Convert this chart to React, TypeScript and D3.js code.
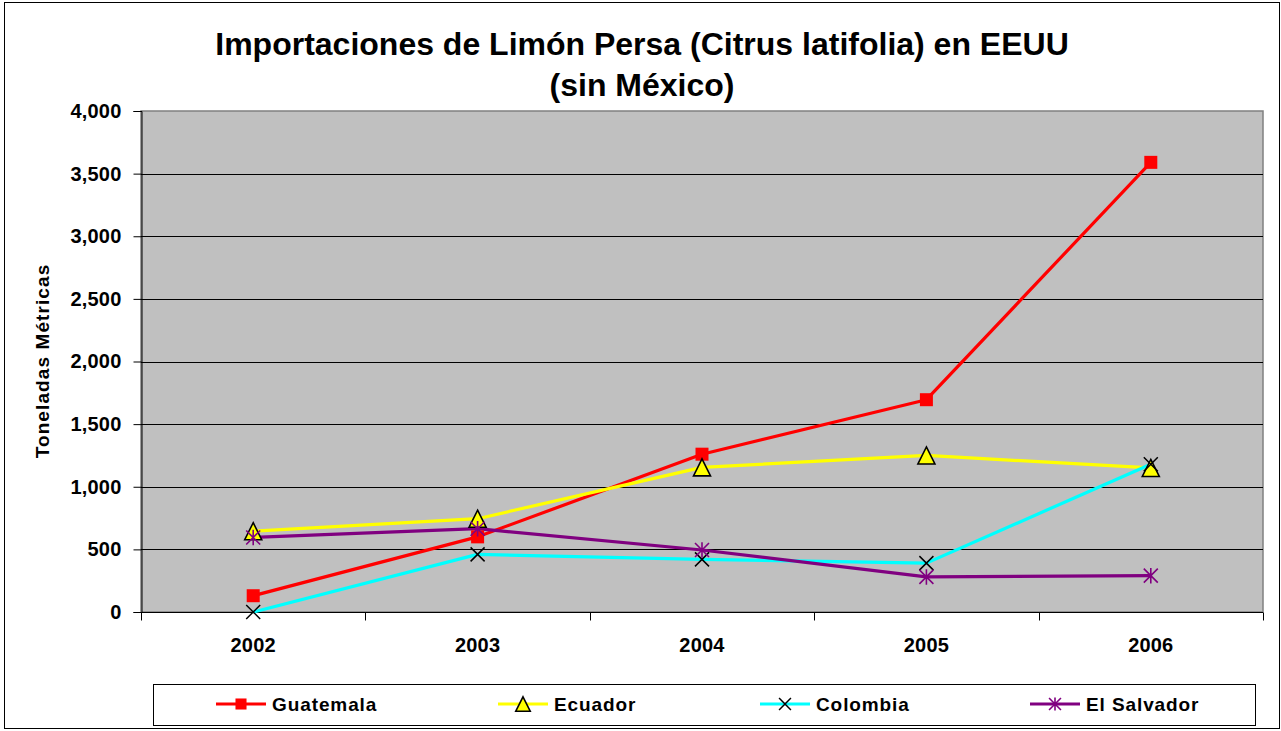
import React, { useEffect, useRef } from "react";
import * as d3 from "d3";

// data
const years = ["2002", "2003", "2004", "2005", "2006"];
const guatemala = [130, 600, 1260, 1695, 3590];
const ecuador = [645, 745, 1155, 1250, 1150];
const colombia = [0, 460, 420, 390, 1180];
const elSalvador = [595, 665, 495, 280, 290];
const yTicks = [0, 500, 1000, 1500, 2000, 2500, 3000, 3500, 4000];
const titleLines = ["Importaciones de Limón Persa (Citrus latifolia) en EEUU", "(sin México)"];
const yTitle = "Toneladas Métricas";

const series = [
  { name: "Guatemala", values: guatemala, color: "#ff0000", marker: "square" },
  { name: "Ecuador", values: ecuador, color: "#ffff00", marker: "triangle" },
  { name: "Colombia", values: colombia, color: "#00ffff", marker: "x" },
  { name: "El Salvador", values: elSalvador, color: "#800080", marker: "star" },
];

const W = 1281;
const H = 731;
const plot = { left: 141, right: 1263, top: 111, bottom: 612 };
const FONT = "'Liberation Sans', Arial, sans-serif";

// draws a marker centred on 0,0
const drawMarker = (g, kind, color, s) => {
  if (kind === "square") {
    g.append("rect").attr("x", -6.5 * s).attr("y", -6.5 * s).attr("width", 13 * s).attr("height", 13 * s)
      .attr("fill", color);
  } else if (kind === "triangle") {
    const w = 8.5 * s, h = 8.5 * s;
    g.append("path").attr("d", `M0,${-h}L${w},${h}L${-w},${h}Z`)
      .attr("fill", color).attr("stroke", "#000").attr("stroke-width", 1.6).attr("stroke-linejoin", "miter");
  } else if (kind === "x") {
    const r = 7 * s;
    g.append("path").attr("d", `M${-r},${-r}L${r},${r}M${r},${-r}L${-r},${r}`)
      .attr("stroke", "#000").attr("stroke-width", 1.5);
  } else {
    const r = 7 * s;
    g.append("path").attr("d", `M${-r},${-r}L${r},${r}M${r},${-r}L${-r},${r}M0,${-r * 1.1}L0,${r * 1.1}`)
      .attr("stroke", color).attr("stroke-width", 1.6);
  }
};

const App = () => {
  const ref = useRef(null);

  useEffect(() => {
    const svg = d3.select(ref.current);
    svg.selectAll("*").remove();

    const x = d3.scaleBand().domain(years).range([plot.left, plot.right]).padding(0);
    const y = d3.scaleLinear().domain([0, 4000]).range([plot.bottom, plot.top]);
    const cx = (yr) => x(yr) + x.bandwidth() / 2;

    // chart border
    svg.append("rect").attr("x", 4.5).attr("y", 2.5).attr("width", 1275).attr("height", 726)
      .attr("fill", "#fff").attr("stroke", "#000").attr("stroke-width", 1);

    // plot area
    svg.append("rect").attr("x", plot.left).attr("y", plot.top)
      .attr("width", plot.right - plot.left).attr("height", plot.bottom - plot.top)
      .attr("fill", "#c0c0c0").attr("stroke", "#808080").attr("stroke-width", 1.5);

    // gridlines
    svg.append("g").selectAll("line").data(yTicks.filter((t) => t > 0 && t < 4000)).join("line")
      .attr("x1", plot.left).attr("x2", plot.right)
      .attr("y1", (d) => Math.round(y(d)) + 0.5).attr("y2", (d) => Math.round(y(d)) + 0.5)
      .attr("stroke", "#000").attr("stroke-width", 1);

    // y axis
    const yAxis = d3.axisLeft(y).tickValues(yTicks).tickSize(8).tickPadding(12)
      .tickFormat(d3.format(","));
    const gy = svg.append("g").attr("transform", `translate(${plot.left + 0.5},0)`).call(yAxis);
    gy.select(".domain").attr("stroke", "#000");
    gy.selectAll("text").attr("font-family", FONT).attr("font-weight", "bold")
      .attr("font-size", 20).attr("letter-spacing", 0.2).attr("fill", "#000");

    // x axis: ticks between categories
    const gx = svg.append("g").attr("transform", `translate(0,${plot.bottom + 0.5})`);
    gx.append("line").attr("x1", plot.left).attr("x2", plot.right).attr("stroke", "#000");
    const bounds = years.map((yr) => x(yr)).concat([plot.right]);
    gx.selectAll("line.tk").data(bounds).join("line").attr("class", "tk")
      .attr("x1", (d) => Math.round(d) + 0.5).attr("x2", (d) => Math.round(d) + 0.5)
      .attr("y1", 0).attr("y2", 8).attr("stroke", "#000");
    gx.selectAll("text").data(years).join("text")
      .attr("x", (d) => cx(d)).attr("y", 39.5).attr("text-anchor", "middle")
      .attr("font-family", FONT).attr("font-weight", "bold").attr("font-size", 20)
      .attr("letter-spacing", 0.2).text((d) => d);

    // lines and markers
    const line = d3.line().x((d) => d[0]).y((d) => d[1]);
    series.forEach((s) => {
      const pts = s.values.map((v, i) => [cx(years[i]), y(v)]);
      svg.append("path").attr("d", line(pts)).attr("fill", "none")
        .attr("stroke", s.color).attr("stroke-width", 3.2).attr("stroke-linejoin", "round");
    });
    series.forEach((s) => {
      s.values.forEach((v, i) => {
        const g = svg.append("g").attr("transform", `translate(${cx(years[i])},${y(v)})`);
        drawMarker(g, s.marker, s.color, 1);
      });
    });

    // title
    svg.append("g").selectAll("text").data(titleLines).join("text")
      .attr("x", 642).attr("y", (d, i) => 55 + i * 41).attr("text-anchor", "middle")
      .attr("font-family", FONT).attr("font-weight", "bold").attr("font-size", 32)
      .text((d) => d);

    // y axis title
    svg.append("text").attr("transform", `translate(49,361) rotate(-90)`).attr("text-anchor", "middle")
      .attr("font-family", FONT).attr("font-weight", "bold").attr("font-size", 19)
      .attr("letter-spacing", 1.1).text(yTitle);

    // legend
    const leg = svg.append("g");
    leg.append("rect").attr("x", 153.5).attr("y", 684.5).attr("width", 1102).attr("height", 41)
      .attr("fill", "#fff").attr("stroke", "#000").attr("stroke-width", 1);
    const legX = [216, 498, 760, 1030];
    series.forEach((s, i) => {
      const g = leg.append("g").attr("transform", `translate(${legX[i]},704)`);
      g.append("line").attr("x1", 0).attr("x2", 50).attr("stroke", s.color).attr("stroke-width", 3.2);
      const m = g.append("g").attr("transform", "translate(25,0)");
      drawMarker(m, s.marker, s.color, 0.85);
      g.append("text").attr("x", 56).attr("y", 7).attr("font-family", FONT)
        .attr("font-weight", "bold").attr("font-size", 19).attr("letter-spacing", 0.9)
        .text(s.name);
    });
  }, []);

  return (
    <svg ref={ref} width={W} height={H}
      style={{ position: "absolute", left: 0, top: 0, display: "block" }} />
  );
};

export default App;
